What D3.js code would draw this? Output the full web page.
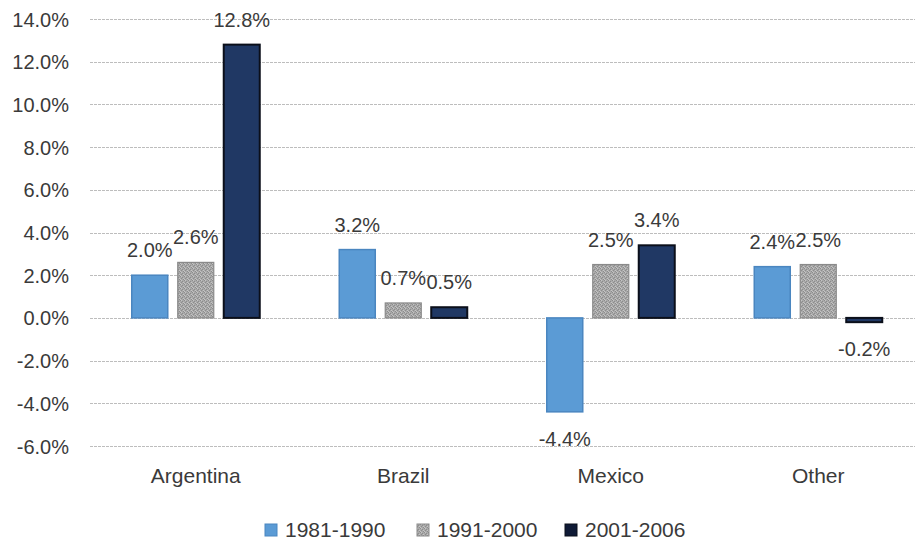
<!DOCTYPE html>
<html><head><meta charset="utf-8">
<script src="https://cdn.jsdelivr.net/npm/d3@7"></script>
<style>body{margin:0;background:#fff}svg{display:block}</style>
</head><body><svg id="c" width="915" height="542"></svg>
<script>
const categories = ["Argentina", "Brazil", "Mexico", "Other"];
const seriesNames = ["1981-1990", "1991-2000", "2001-2006"];
const s1981 = [2.0, 3.2, -4.4, 2.4];
const s1991 = [2.6, 0.7, 2.5, 2.5];
const s2001 = [12.8, 0.5, 3.4, -0.2];
const yTicks = [-6, -4, -2, 0, 2, 4, 6, 8, 10, 12, 14];

const seriesValues = [s1981, s1991, s2001];
const fills = ["#5B9BD5", "url(#grayTex)", "#203864"];
const strokes = ["#4A86C0", "#8a8a8a", "#0b0f1a"];
const strokeW = [1.5, 1.2, 2];
const legendFills = ["#5B9BD5", "url(#grayTex)", "#0f1a36"];

const svg = d3.select("#c");
const font = "'Liberation Sans', Arial, sans-serif";
const txt = "#3a3a3a";

// pattern
const defs = svg.append("defs");
const pat = defs.append("pattern").attr("id","grayTex").attr("patternUnits","userSpaceOnUse")
  .attr("width",4).attr("height",4);
pat.append("rect").attr("width",4).attr("height",4).attr("fill","#a9a9a9");
[[0,0],[2,1],[1,2],[3,3]].forEach(([a,b])=>pat.append("rect").attr("x",a).attr("y",b).attr("width",1).attr("height",1).attr("fill","#8c8c8c"));
[[1,0],[3,2],[0,3]].forEach(([a,b])=>pat.append("rect").attr("x",a).attr("y",b).attr("width",1).attr("height",1).attr("fill","#c4c4c4"));

const y = d3.scaleLinear().domain([-6, 14]).range([446, 19]);
const x0 = d3.scaleBand().domain(categories).range([92, 922]).padding(0);
const x1 = d3.scaleBand().domain(seriesNames).range([39.75, 167.75]).paddingInner(0.217).paddingOuter(0);

// gridlines
svg.append("g").selectAll("line").data(yTicks).join("line")
  .attr("x1", 90).attr("x2", 915)
  .attr("y1", d => Math.round(y(d)) + 0.5).attr("y2", d => Math.round(y(d)) + 0.5)
  .attr("stroke", "#bdbdbd").attr("stroke-width", 1).attr("stroke-dasharray", "3,1");

// y axis labels
const yAxis = d3.axisLeft(y).tickValues(yTicks).tickSize(0).tickPadding(0)
  .tickFormat(d => d.toFixed(1) + "%");
const ga = svg.append("g").attr("transform", "translate(69,0)").call(yAxis);
ga.select(".domain").remove();
ga.selectAll("text").attr("font-family", font).attr("font-size", 20).attr("fill", txt).attr("dy", "0.35em");

// bars
seriesNames.forEach((s, si) => {
  const g = svg.append("g");
  const data = categories.map((c, i) => ({c, v: seriesValues[si][i]}));
  g.selectAll("rect").data(data).join("rect")
    .attr("x", d => x0(d.c) + x1(s))
    .attr("width", x1.bandwidth())
    .attr("y", d => y(Math.max(0, d.v)))
    .attr("height", d => Math.abs(y(d.v) - y(0)))
    .attr("fill", fills[si]).attr("stroke", strokes[si]).attr("stroke-width", strokeW[si]);
  g.selectAll("text").data(data).join("text")
    .attr("x", d => x0(d.c) + x1(s) + x1.bandwidth() / 2)
    .attr("y", d => d.v >= 0 ? y(d.v) - 18 : y(d.v) + 34)
    .attr("text-anchor", "middle")
    .attr("font-family", font).attr("font-size", 20).attr("fill", txt)
    .text(d => d.v.toFixed(1) + "%");
});

// x labels
const xAxis = d3.axisBottom(x0).tickSize(0).tickPadding(0);
const gx = svg.append("g").attr("transform", "translate(0,483)").call(xAxis);
gx.select(".domain").remove();
gx.selectAll("text").attr("font-family", font).attr("font-size", 21).attr("fill", txt).attr("dy", "0");

// legend
const legX = [265, 417, 565];
const lg = svg.append("g");
seriesNames.forEach((s, si) => {
  lg.append("rect").attr("x", legX[si]).attr("y", 524).attr("width", 12).attr("height", 12)
    .attr("fill", legendFills[si]).attr("stroke", strokes[si]).attr("stroke-width", 1);
  lg.append("text").attr("x", legX[si] + 20).attr("y", 537)
    .attr("font-family", font).attr("font-size", 21).attr("fill", txt).text(s);
});
</script></body></html>
